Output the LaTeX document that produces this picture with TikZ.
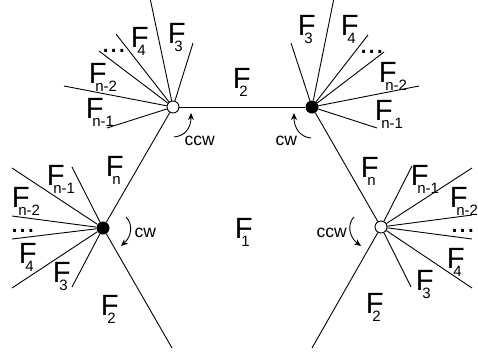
\documentclass[tikz,border=0pt]{standalone}
\usepackage{fontspec}
\setmainfont{Liberation Sans}
\usetikzlibrary{arrows.meta}
\newcommand\Fsub[1]{F\kern-0.39em\raisebox{-8.5pt}{\fontsize{15}{15}\selectfont #1}}
\tikzset{
  lbl/.style={inner sep=0pt, anchor=base west, font=\fontsize{29.3}{30}\selectfont},
  rotlbl/.style={inner sep=0pt, anchor=base west, font=\fontsize{17.5}{18}\selectfont},
  ray/.style={line width=0.9pt},
  wv/.style={circle, draw, line width=0.9pt, fill=white, minimum size=12pt, inner sep=0pt},
  bv/.style={circle, fill=black, minimum size=13pt, inner sep=0pt},
  rotarrow/.style={line width=0.9pt, -{Stealth[length=7pt,width=6pt]}},
}
\begin{document}
\begin{tikzpicture}[x=1pt,y=-1pt]
\useasboundingbox (0,0) rectangle (478,354);
% vertices
\node[wv] (A) at (173,107) {};
\node[bv] (B) at (312,107) {};
\node[bv] (C) at (103,228) {};
\node[wv] (D) at (381,227) {};
% ray ends
\coordinate (a1) at (150,-2);
\coordinate (a2) at (193,43);
\coordinate (a3) at (116,34);
\coordinate (a4) at (99,51);
\coordinate (a5) at (64,86);
\coordinate (a6) at (107,128);
\coordinate (b1) at (334,-2);
\coordinate (b2) at (291,43);
\coordinate (b3) at (368,35);
\coordinate (b4) at (384,52);
\coordinate (b5) at (419,86);
\coordinate (b6) at (377,128);
\coordinate (c1) at (72,167);
\coordinate (c2) at (12,168);
\coordinate (c3) at (12,216);
\coordinate (c4) at (12,239);
\coordinate (c5) at (12,288);
\coordinate (c6) at (72,287);
\coordinate (c7) at (172,348);
\coordinate (d1) at (412,166);
\coordinate (d2) at (472,168);
\coordinate (d3) at (472,215);
\coordinate (d4) at (472,239);
\coordinate (d5) at (472,288);
\coordinate (d6) at (411,287);
\coordinate (d7) at (312,348);
% edges
\draw[ray] (A) -- (B);
\draw[ray] (A) -- (C);
\draw[ray] (B) -- (D);
\foreach \p in {a1,a2,a3,a4,a5,a6} \draw[ray] (A) -- (\p);
\foreach \p in {b1,b2,b3,b4,b5,b6} \draw[ray] (B) -- (\p);
\foreach \p in {c1,c2,c3,c4,c5,c6,c7} \draw[ray] (C) -- (\p);
\foreach \p in {d1,d2,d3,d4,d5,d6,d7} \draw[ray] (D) -- (\p);
% rotation arrows
\coordinate (ra0) at (174,137); \coordinate (ra1) at (191,113);
\coordinate (rb0) at (311,138); \coordinate (rb1) at (294,113);
\coordinate (rc0) at (126,217); \coordinate (rc1) at (121,246);
\coordinate (rd0) at (354,217); \coordinate (rd1) at (361,246);
\draw[rotarrow] (ra0) .. controls (185,136) and (191,128) .. (ra1);
\draw[rotarrow] (rb0) .. controls (300,137) and (294,128) .. (rb1);
\draw[rotarrow] (rc0) .. controls (133,224) and (132,236) .. (rc1);
\draw[rotarrow] (rd0) .. controls (347,224) and (349,237) .. (rd1);
\node[rotlbl] (ta) at (184.3,145) {ccw};
\node[rotlbl] (tb) at (275.5,145) {cw};
\node[rotlbl] (tc) at (134.5,237) {cw};
\node[rotlbl] (td) at (316.3,237) {ccw};
% face labels
\node[lbl] (f2top) at (232.6,88) {\Fsub{2}};
\node[lbl] (f1) at (234.6,238) {\Fsub{1}};
% around A
\node[lbl] (a3l) at (167.6,43) {\Fsub{3}};
\node[lbl] (a4l) at (130.6,47) {\Fsub{4}};
\node[lbl] (adl) at (101.3,52) {...};
\node[lbl] (an2l) at (88.6,83) {\Fsub{n-2}};
\node[lbl] (an1l) at (85.6,118) {\Fsub{n-1}};
\node[lbl] (anl) at (105.6,176) {\Fsub{n}};
% around B
\node[lbl] (b3l) at (297.6,35) {\Fsub{3}};
\node[lbl] (b4l) at (340.6,35) {\Fsub{4}};
\node[lbl] (bdl) at (359.3,53) {...};
\node[lbl] (bn2l) at (378.6,82) {\Fsub{n-2}};
\node[lbl] (bn1l) at (374.6,120) {\Fsub{n-1}};
\node[lbl] (bnl) at (360.6,177) {\Fsub{n}};
% around C
\node[lbl] (cn1l) at (46.6,185) {\Fsub{n-1}};
\node[lbl] (cn2l) at (11.6,207) {\Fsub{n-2}};
\node[lbl] (cdl) at (10.3,232) {...};
\node[lbl] (c4l) at (18.6,263) {\Fsub{4}};
\node[lbl] (c3l) at (52.6,282) {\Fsub{3}};
\node[lbl] (c2l) at (100.6,315) {\Fsub{2}};
% around D
\node[lbl] (dn1l) at (410.6,185) {\Fsub{n-1}};
\node[lbl] (dn2l) at (449.6,207) {\Fsub{n-2}};
\node[lbl] (ddl) at (450.3,232) {...};
\node[lbl] (d4l) at (446.6,268) {\Fsub{4}};
\node[lbl] (d3l) at (415.6,290) {\Fsub{3}};
\node[lbl] (d2l) at (365.6,313) {\Fsub{2}};
\end{tikzpicture}
\end{document}
